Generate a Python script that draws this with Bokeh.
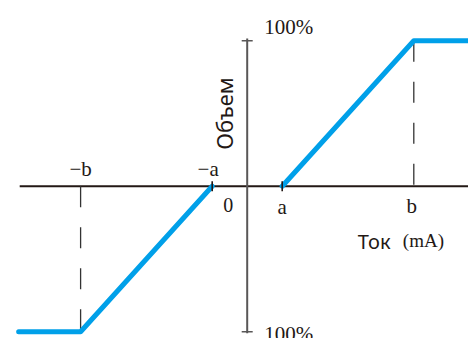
import math
from bokeh.plotting import figure
from bokeh.models import Range1d
from bokeh.core.properties import value
from bokeh.embed import file_html
from bokeh.resources import INLINE

# ---- data (current in units of a, volume in %) ----
a = 1.0
b = 4.76
vol_max = 100
neg_x = [-6.53, -b, -a]
neg_y = [-vol_max, -vol_max, 0]
pos_x = [a, b, 6.5]
pos_y = [0, vol_max, vol_max]
x_tick_vals = [-b, -a, a, b]
x_tick_labels = ["\u2212b", "\u2212a", "a", "b"]
y_tick_vals = [vol_max, -vol_max]
y_tick_labels = ["100%", "100%"]
x_axis_extent = [-6.5, 6.5]

# ---- layout ----
W, H = 468, 338
PX_X = 35.0      # pixels per current unit
PX_Y = 1.455     # pixels per percent
x0_px, y0_px = 246.7, 185.7   # origin within the canvas
x_start = -x0_px / PX_X
x_end = (W - x0_px) / PX_X
y_end = y0_px / PX_Y
y_start = -(H - y0_px) / PX_Y

p = figure(width=W, height=H, output_backend="svg", toolbar_location=None,
           x_range=Range1d(x_start, x_end), y_range=Range1d(y_start, y_end),
           min_border=0)
p.axis.visible = False
p.grid.visible = False
p.outline_line_color = None
p.background_fill_color = "white"
p.border_fill_color = "white"

AX_H = "#231815"
AX_V = "#595757"
BLUE = "#00A0E9"
SERIF = value("Liberation Serif")
SANS = value("Noto Sans")

# horizontal axis
p.segment(x0=[x_axis_extent[0]], y0=[0], x1=[x_axis_extent[1]], y1=[0],
          line_color=AX_H, line_width=2)
# vertical axis
p.segment(x0=[0], y0=[y_tick_vals[0] + 1.5], x1=[0], y1=[y_tick_vals[1] - 1],
          line_color=AX_V, line_width=2)

# dashed guide lines
p.segment(x0=[b, -b], y0=[vol_max, 0], x1=[b, -b], y1=[0, -vol_max],
          line_color="#333333", line_width=1.3, line_dash="21 20")

# blue characteristic
for xs, ys in ((neg_x, neg_y), (pos_x, pos_y)):
    p.line(xs, ys, line_color=BLUE, line_width=5, line_cap="round",
           line_join="round")

# ticks
th_y = 5 / PX_Y
p.segment(x0=[-a, a], y0=[-th_y, -th_y], x1=[-a, a], y1=[th_y, th_y],
          line_color=AX_H, line_width=1.6)
th_x = 5.5 / PX_X
p.segment(x0=[-th_x, -th_x], y0=y_tick_vals, x1=[th_x, th_x], y1=y_tick_vals,
          line_color=AX_V, line_width=1.6)

# tick labels
p.text(x=[-b, -a], y=[0, 0], text=x_tick_labels[:2],
       x_offset=[0, -4], y_offset=[-17, -17],
       text_font=SERIF, text_font_size="21px", text_color=AX_H,
       text_align="center", text_baseline="alphabetic")
p.text(x=[a, b], y=[0, 0], text=x_tick_labels[2:],
       x_offset=[0, -2], y_offset=[21, 20],
       text_font=SERIF, text_font_size="21px", text_color=AX_H,
       text_align="center", text_baseline="alphabetic")
p.text(x=[0], y=[0], text=["0"], x_offset=[-19], y_offset=[19],
       text_font=SERIF, text_font_size="20px", text_color=AX_H,
       text_align="center", text_baseline="alphabetic")
p.text(x=[0, 0], y=y_tick_vals, text=y_tick_labels,
       x_offset=[17, 17], y_offset=[-14, -10],
       text_font=SERIF, text_font_size="21px", text_color=AX_H,
       text_align="left", text_baseline=["alphabetic", "top"])

# axis titles
p.text(x=[b], y=[0], text=["Ток"], x_offset=[-56], y_offset=[55],
       text_font=SANS, text_font_size="20px", text_color=AX_H,
       text_align="left", text_baseline="alphabetic")
p.text(x=[b], y=[0], text=["(mA)"], x_offset=[-11], y_offset=[54],
       text_font=SERIF, text_font_size="19px", text_color=AX_H,
       text_align="left", text_baseline="alphabetic")
p.text(x=[0], y=[50], text=["Объем"], x_offset=[-23], y_offset=[0],
       angle=math.pi / 2,
       text_font=SANS, text_font_size="22px", text_color=AX_H,
       text_align="center", text_baseline="middle")

open("out.html", "w").write(file_html(p, INLINE))
